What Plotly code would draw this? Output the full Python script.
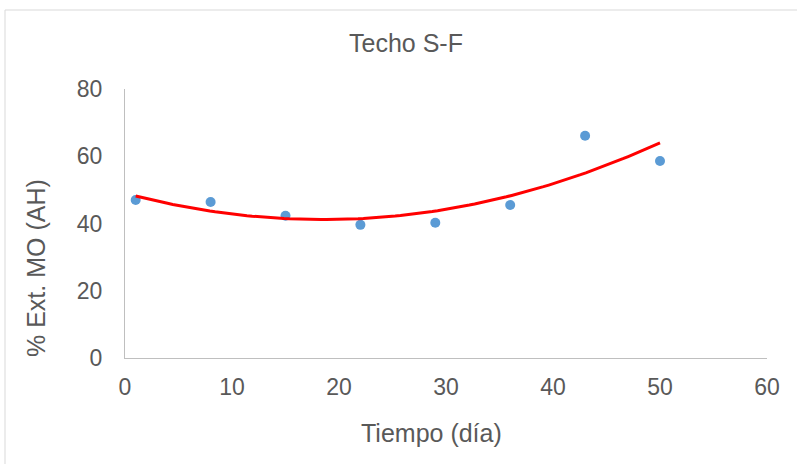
import numpy as np
import plotly.graph_objects as go

# Observed extraction of organic matter (humic acids) over time
tiempo = [1, 8, 15, 22, 29, 36, 43, 50]
extraccion = [47.0, 46.4, 42.3, 39.6, 40.2, 45.5, 66.1, 58.6]

x_ticks = [0, 10, 20, 30, 40, 50, 60]
y_ticks = [0, 20, 40, 60, 80]

# Second-order polynomial trendline fitted to the observations
coef = np.polyfit(tiempo, extraccion, 2)
x_fit = np.linspace(min(tiempo), max(tiempo), 100)
y_fit = np.polyval(coef, x_fit)

FONT = "Liberation Sans, Arial, sans-serif"
TXT = "#595959"

fig = go.Figure()
fig.add_trace(go.Scatter(x=tiempo, y=extraccion, mode="markers",
                         marker=dict(color="#5B9BD5", size=10),
                         showlegend=False))
fig.add_trace(go.Scatter(x=x_fit, y=y_fit, mode="lines",
                         line=dict(color="#FF0000", width=3),
                         showlegend=False))

W, H = 797, 464
L, R, T, B = 125, 30, 89, 106
pw, ph = W - L - R, H - T - B

def px(x):
    return (x - L) / pw

def py(y):
    return (H - B - y) / ph

fig.update_layout(
    width=W, height=H,
    margin=dict(l=L, r=R, t=T, b=B),
    paper_bgcolor="white", plot_bgcolor="white",
    font=dict(family=FONT, color=TXT, size=24),
    xaxis=dict(range=[0, 60], tickvals=x_ticks, showgrid=False, zeroline=False,
               showline=True, linecolor="#BFBFBF", linewidth=1, ticks="",
               tickfont=dict(size=23, color=TXT), ticklabelstandoff=8),
    yaxis=dict(range=[0, 80], tickvals=y_ticks, showgrid=False, zeroline=False,
               showline=True, linecolor="#BFBFBF", linewidth=1, ticks="",
               tickfont=dict(size=23, color=TXT), ticklabelstandoff=17),
    shapes=[dict(type="rect", xref="paper", yref="paper",
                 x0=px(5), x1=px(800), y0=py(470), y1=py(10),
                 line=dict(color="#D9D9D9", width=1), fillcolor="rgba(0,0,0,0)",
                 layer="below")],
    annotations=[
        dict(text="Techo S-F", xref="paper", yref="paper",
             x=px(406), y=py(43), xanchor="center", yanchor="middle",
             showarrow=False, font=dict(size=25, color=TXT)),
        dict(text="Tiempo (día)", xref="paper", yref="paper",
             x=px(431), y=py(433), xanchor="center", yanchor="middle",
             showarrow=False, font=dict(size=25, color=TXT)),
        dict(text="% Ext. MO (AH)", xref="paper", yref="paper",
             x=px(36), y=py(268), xanchor="center", yanchor="middle",
             textangle=-90, showarrow=False, font=dict(size=25, color=TXT)),
    ],
)

fig.write_html("out.html")
